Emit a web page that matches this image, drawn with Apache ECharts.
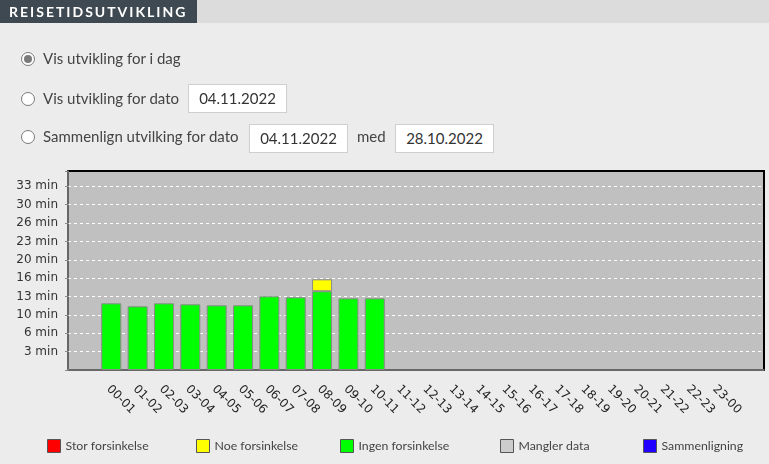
<!DOCTYPE html>
<html>
<head>
<meta charset="utf-8">
<script src="https://cdn.jsdelivr.net/npm/echarts@6/dist/echarts.min.js"></script>
<style>
  html, body { margin:0; padding:0; width:769px; height:464px; background:#ececec; overflow:hidden; font-family: Lato, "Open Sans", sans-serif; }
  #chart { position:absolute; left:0; top:0; width:769px; height:464px; }
  .hdr { position:absolute; left:0; top:0; width:769px; height:23px; background:#dcdcdc; }
  .ttl { position:absolute; left:0; top:0; width:197px; height:23px; background:#3e4951; color:#fff; font: bold 14px Lato, sans-serif; letter-spacing:2px; line-height:23px; padding-left:9px; box-sizing:border-box; white-space:nowrap; }
  .radio { position:absolute; left:21px; width:14px; height:14px; border:1px solid #7a7a7a; border-radius:50%; background:#fff; box-sizing:border-box; }
  .radio.on::after { content:""; position:absolute; left:2px; top:2px; width:8px; height:8px; border-radius:50%; background:#7a7a7a; }
  .lbl { position:absolute; left:43px; font-size:15px; color:#444; white-space:nowrap; }
  .inp { position:absolute; width:99px; height:29px; background:#fff; border:1px solid #cfcfcf; box-sizing:border-box; font-size:15px; color:#333; text-align:center; line-height:27px; }
</style>
</head>
<body>
<div id="chart"></div>
<div class="hdr"></div>
<div class="ttl">REISETIDSUTVIKLING</div>

<div class="radio on" style="top:52px"></div>
<div class="lbl" style="top:49px">Vis utvikling for i dag</div>

<div class="radio" style="top:92px"></div>
<div class="lbl" style="top:89px">Vis utvikling for dato</div>
<div class="inp" style="left:188px; top:84px">04.11.2022</div>

<div class="radio" style="top:130px"></div>
<div class="lbl" style="top:127px">Sammenlign utvilking for dato</div>
<div class="inp" style="left:249px; top:124px">04.11.2022</div>
<div class="lbl" style="left:357px; top:127px">med</div>
<div class="inp" style="left:395px; top:124px">28.10.2022</div>

<script>
// Categories (hour intervals)
const hours = ['00-01','01-02','02-03','03-04','04-05','05-06','06-07','07-08','08-09','09-10','10-11','11-12',
               '12-13','13-14','14-15','15-16','16-17','17-18','18-19','19-20','20-21','21-22','22-23','23-00'];
// Travel time in seconds
const ingenForsinkelse = [726, 693, 726, 715, 704, 704, 802, 791, 857, 780, 780,
                          null, null, null, null, null, null, null, null, null, null, null, null, null];
const noeForsinkelse   = [null, null, null, null, null, null, null, null, 130, null, null,
                          null, null, null, null, null, null, null, null, null, null, null, null, null];
const storForsinkelse  = [];
const manglerData      = [];
const sammenligning    = [];
// Y tick labels (every 200 seconds)
const yTickLabels = ['3 min','6 min','10 min','13 min','16 min','20 min','23 min','26 min','30 min','33 min'];
const yStep = 200;
const yMax = 2166;
const legendNames = ['Stor forsinkelse','Noe forsinkelse','Ingen forsinkelse','Mangler data','Sammenligning'];

const chart = echarts.init(document.getElementById('chart'));
const barBorder = { borderColor:'#8a8a8a', borderWidth:1 };
const legendLefts = [42, 191, 335, 495, 638];

const option = {
  animation:false,
  backgroundColor:'transparent',
  grid:[
    { left:68, right:5, top:171, bottom:94, show:true, backgroundColor:'#c0c0c0', borderColor:'#000', borderWidth:2 },
    { left:99.6, width:632.4, top:171, bottom:94 }
  ],
  xAxis:[
    { type:'value', gridIndex:0, min:0, max:1, offset:4,
      axisLine:{ show:true, lineStyle:{ color:'#8a8a8a', width:1.5 } },
      axisTick:{show:false}, axisLabel:{show:false}, splitLine:{show:false} },
    { type:'category', gridIndex:1, data:hours, boundaryGap:true,
      axisLine:{show:false}, axisTick:{show:false},
      axisLabel:{ interval:0, rotate:-45, margin:13, verticalAlign:'top', fontFamily:'DejaVu Sans', fontSize:12, color:'#222' } }
  ],
  yAxis:[
    { type:'value', gridIndex:0, min:0, max:yMax, interval:yStep, offset:4,
      axisLine:{ show:true, lineStyle:{ color:'#8a8a8a', width:1.5 } },
      axisTick:{ show:true, length:3, lineStyle:{ color:'#8a8a8a' } },
      axisLabel:{ margin:6, fontFamily:'DejaVu Sans', fontSize:12, color:'#333',
        formatter:function(v){ if (v % yStep !== 0 || v === 0) return ''; return yTickLabels[v / yStep - 1] || ''; } },
      splitLine:{ show:true, showMinLine:false, showMaxLine:false, lineStyle:{ color:'#ffffff', type:[3,3], width:1 } } },
    { type:'value', gridIndex:1, min:0, max:yMax, interval:yStep, show:false, splitLine:{show:false} }
  ],
  legend: legendNames.map(function(n, i){
    return { data:[n], left:legendLefts[i], top:434, icon:'rect', itemWidth:13, itemHeight:13,
      itemStyle:{ borderColor:'#555', borderWidth:1 },
      textStyle:{ fontFamily:'Lato', fontSize:12.3, color:'#444' }, selectedMode:false };
  }),
  series:[
    { name:'Stor forsinkelse', type:'bar', xAxisIndex:1, yAxisIndex:1, data:storForsinkelse, itemStyle:{ color:'#ff0000' } },
    { name:'Ingen forsinkelse', type:'bar', xAxisIndex:1, yAxisIndex:1, stack:'t', barWidth:20, data:ingenForsinkelse,
      itemStyle:Object.assign({ color:'#00ff00' }, barBorder) },
    { name:'Noe forsinkelse', type:'bar', xAxisIndex:1, yAxisIndex:1, stack:'t', barWidth:20, data:noeForsinkelse,
      itemStyle:Object.assign({ color:'#ffff00' }, barBorder) },
    { name:'Mangler data', type:'bar', xAxisIndex:1, yAxisIndex:1, data:manglerData, itemStyle:{ color:'#cccccc' } },
    { name:'Sammenligning', type:'bar', xAxisIndex:1, yAxisIndex:1, data:sammenligning, itemStyle:{ color:'#2200ff' } }
  ]
};
chart.setOption(option);
</script>
</body>
</html>
